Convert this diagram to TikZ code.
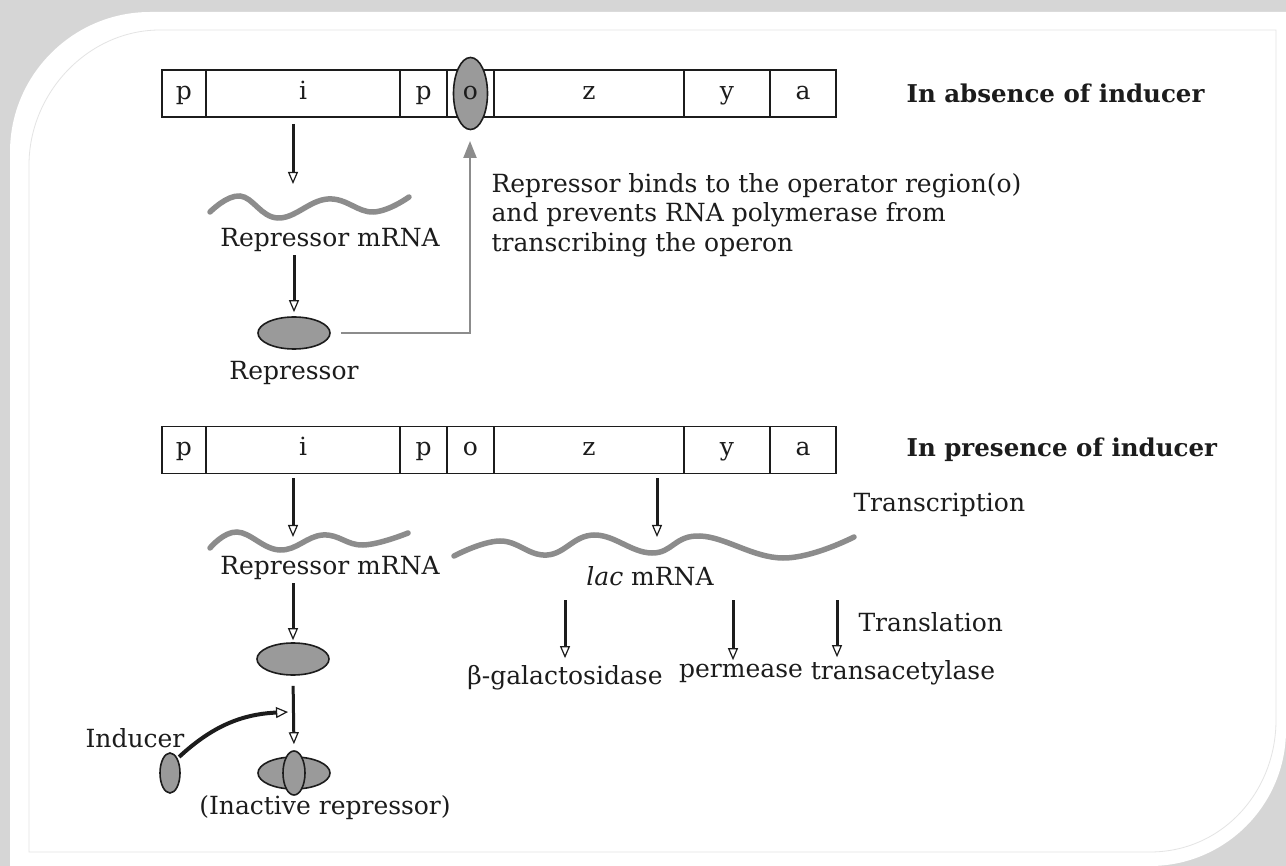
\documentclass[tikz,border=0pt]{standalone}
\usepackage{fontspec}
\setmainfont{DejaVu Serif}
\usetikzlibrary{shapes.geometric,positioning,arrows.meta}
\definecolor{ink}{HTML}{1C1C1C}
\definecolor{blob}{HTML}{9A9A9A}
\definecolor{rna}{HTML}{8C8C8C}
\definecolor{frame}{HTML}{D6D6D6}
\definecolor{rim}{HTML}{E4E4E4}

\begin{document}
\begin{tikzpicture}[x=1pt, y=-1pt,
	every node/.style={font=\fontsize{25}{29.5}\selectfont, text=ink},
	heading/.style={font=\fontsize{24.5}{29.5}\selectfont\bfseries},
	gene/.style={draw=ink, line width=1.8pt, minimum height=47pt, text height=17pt, text depth=5pt, inner sep=0pt, outer sep=0pt, anchor=west},
	blobnode/.style={ellipse, draw=ink, line width=1.6pt, fill=blob, inner sep=0pt},
	trans/.style={draw=ink, line width=3pt, -{Triangle[open, length=12pt, width=10pt, line width=1.2pt]}},
	bindline/.style={draw=rna, line width=2.2pt, -{Triangle[length=17pt, width=13pt]}},
	indarrow/.style={draw=ink, line width=4pt, -{Triangle[open, length=12pt, width=11pt, line width=1.2pt]}},
	rnaline/.style={rna, line width=5.5pt, line cap=round}]
			% card
			\useasboundingbox (0,0) rectangle (1286,866);
			\fill [frame] (0,0) rectangle (1286,866);
			\fill [white] (10,866) -- (10,152) .. controls (10,75) and (73,12) .. (150,12) -- (1286,12) -- (1286,730) .. controls (1286,805) and (1225,866) .. (1150,866) -- cycle;
			\draw [rim, line width=0.8pt] (29,852) -- (29,165) .. controls (29,93) and (88,30) .. (160,30) -- (1276,30) -- (1276,720) .. controls (1276,792) and (1222,852) .. (1150,852) -- cycle;

			% operon without inducer
			\node [gene, minimum width=44pt] (p1) at (162,93.5) {p};
			\node [gene, minimum width=194pt, right=0pt of p1] (i1) {i};
			\node [gene, minimum width=47pt, right=0pt of i1] (q1) {p};
			\node [gene, minimum width=47pt, right=0pt of q1] (o1) {};
			\node [gene, minimum width=190pt, right=0pt of o1] (z1) {z};
			\node [gene, minimum width=86pt, right=0pt of z1] (y1) {y};
			\node [gene, minimum width=66pt, right=0pt of y1] (a1) {a};
			\node [blobnode, minimum width=34pt, minimum height=72pt, text height=17pt, text depth=5pt] (opr) at (o1.center) {o};
			\node [heading, right=67pt of a1] (absent) {In absence of inducer};

			\coordinate (w1) at (293,184);
			\draw [trans, shorten <=7pt] (i1.south -| w1) -- (w1);
			\draw [rnaline] plot [smooth, tension=0.7] coordinates {(210,212) (240,196) (278,218) (328,199) (373,212) (409,197)};
			\node (mrna1) at (330,240) {Repressor mRNA};
			\node [blobnode, minimum width=72pt, minimum height=32pt] (rep1) at (294,333) {};
			\draw [trans, shorten >=4pt] (mrna1.south -| rep1) -- (rep1.north);
			\node [below=8pt of rep1] (replab) {Repressor};
			\coordinate (optip) at (470,141);
			\draw [bindline, shorten <=10pt] (rep1.east) -| (optip);
			\node [anchor=west, align=left] (bind) at (488,215) {Repressor binds to the operator region(o)\\and prevents RNA polymerase from\\transcribing the operon};

			% operon with inducer
			\node [gene, minimum width=44pt] (p2) at (162,450) {p};
			\node [gene, minimum width=194pt, right=0pt of p2] (i2) {i};
			\node [gene, minimum width=47pt, right=0pt of i2] (q2) {p};
			\node [gene, minimum width=47pt, right=0pt of q2] (o2) {o};
			\node [gene, minimum width=190pt, right=0pt of o2] (z2) {z};
			\node [gene, minimum width=86pt, right=0pt of z2] (y2) {y};
			\node [gene, minimum width=66pt, right=0pt of y2] (a2) {a};
			\node [heading, right=67pt of a2] (present) {In presence of inducer};

			\coordinate (w2) at (293,537);
			\draw [trans, shorten <=5pt] (i2.south -| w2) -- (w2);
			\draw [rnaline] plot [smooth, tension=0.7] coordinates {(210,548) (237,532) (280,550) (323,535) (363,545) (408,533)};
			\node (mrna2) at (330,568) {Repressor mRNA};
			\node [blobnode, minimum width=72pt, minimum height=32pt] (rep2) at (293,659) {};
			\draw [trans, shorten >=2pt] (mrna2.south -| rep2) -- (rep2.north);
			\node [blobnode, minimum width=72pt, minimum height=32pt] (inact) at (294,773) {};
			\node [blobnode, minimum width=22pt, minimum height=44pt] (bound) at (inact) {};
			\draw [trans, shorten <=10pt, shorten >=6pt] (rep2.south) -- (bound.north);
			\node (inactlab) at (325,808) {(Inactive repressor)};
			\node [blobnode, minimum width=20pt, minimum height=40pt] (ind) at (170,773) {};
			\node [above=1pt of ind, xshift=-35pt] (indlab) {Inducer};
			\coordinate (meet) at (288,712);
			\draw [indarrow, shorten <=2pt] (ind.north east) to [bend left=20] (meet);

			% lac transcript and its products
			\coordinate (w3) at (657,537);
			\draw [trans, shorten <=5pt] (z2.south -| w3) -- (w3);
			\draw [rnaline] plot [smooth, tension=0.7] coordinates {(454,556) (500,541) (547,555) (594,535) (652,553) (700,536) (783,558) (854,537)};
			\node (lac) at (650,576) {\textit{lac} mRNA};
			\node [anchor=west] (transc) at (850,505) {Transcription};
			\node (bgal) at (565,678) {β-galactosidase};
			\node (perm) at (741,673) {permease};
			\node (tacet) at (903,673) {transacetylase};
			\coordinate (t1) at (565,600);
			\coordinate (t2) at (733,600);
			\coordinate (t3) at (837,600);
			\draw [trans, shorten >=4pt] (t1) -- (t1 |- bgal.north);
			\draw [trans] (t2) -- (t2 |- perm.north);
			\draw [trans] (t3) -- (t3 |- tacet.north);
			\node [anchor=west] (transl) at (855,622) {Translation};
		\end{tikzpicture}
\end{document}
